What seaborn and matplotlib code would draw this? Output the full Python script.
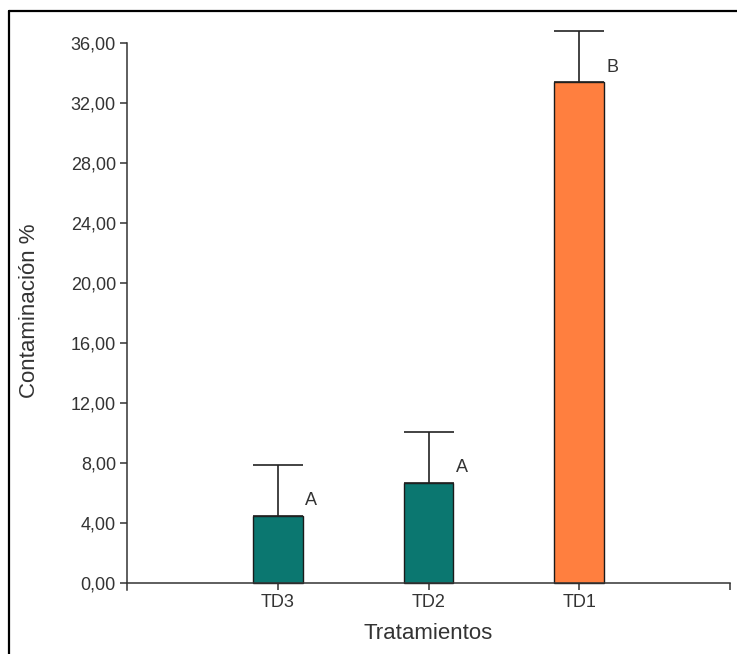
import numpy as np
import matplotlib
matplotlib.use("Agg")
import matplotlib.pyplot as plt
from matplotlib.lines import Line2D
from matplotlib.ticker import FuncFormatter
import seaborn as sns

# data
tratamientos = ["TD3", "TD2", "TD1"]
contaminacion = [4.5, 6.7, 33.4]
error_sup = [3.35, 3.35, 3.4]
letras = ["A", "A", "B"]
colores = ["#0b7770", "#0b7770", "#ff7f3f"]

sns.set_style("white")
plt.rcParams["font.family"] = ["Liberation Sans", "DejaVu Sans"]

fig = plt.figure(figsize=(7.37, 6.54), dpi=100)
ax = fig.add_axes([127 / 737, 1 - 589.75 / 654, 603 / 737, 546.75 / 654])

sns.barplot(
    x=tratamientos, y=contaminacion, hue=tratamientos, palette=colores,
    legend=False, width=0.33, edgecolor="#1a1a1a", linewidth=1.0,
    saturation=1, ax=ax,
)

x = np.arange(len(tratamientos))
ax.errorbar(
    x, contaminacion, yerr=[np.zeros(len(x)), error_sup], fmt="none",
    ecolor="#222222", elinewidth=1.2, capsize=18, capthick=1.2,
    clip_on=False, zorder=3,
)

for i, (m, l) in enumerate(zip(contaminacion, letras)):
    ax.text(i + 0.22, m + 1.0, l, ha="center", va="center",
            fontsize=13, color="#333333")

ax.set_xlim(-1, 3)
ax.set_ylim(-0.45, 36)
ax.set_yticks(np.arange(0, 37, 4))
ax.yaxis.set_major_formatter(FuncFormatter(lambda v, p: f"{v:.2f}".replace(".", ",")))
ax.set_xticks([3], minor=True)

for s in ["top", "right"]:
    ax.spines[s].set_visible(False)
ax.spines["bottom"].set_position(("data", 0))
for s in ["left", "bottom"]:
    ax.spines[s].set_color("#333333")
    ax.spines[s].set_linewidth(1.1)

ax.tick_params(axis="both", which="both", direction="out", length=5,
               width=1.1, color="#333333", labelsize=13, labelcolor="#333333",
               left=True, bottom=True, pad=3)

ax.set_ylabel("Contaminación %", fontsize=16, color="#333333")
ax.set_xlabel("Tratamientos", fontsize=16, color="#333333")
ax.yaxis.set_label_coords(-0.145, 0.51)
ax.xaxis.set_label_coords(0.5, -0.06)

# frame of the screenshot (top and left edges only)
fig.add_artist(Line2D([9 / 737, 1], [1 - 11 / 654] * 2, transform=fig.transFigure,
                      color="black", lw=1.6))
fig.add_artist(Line2D([9 / 737] * 2, [0, 1 - 11 / 654], transform=fig.transFigure,
                      color="black", lw=1.6))

fig.savefig("out.png", dpi=100)
